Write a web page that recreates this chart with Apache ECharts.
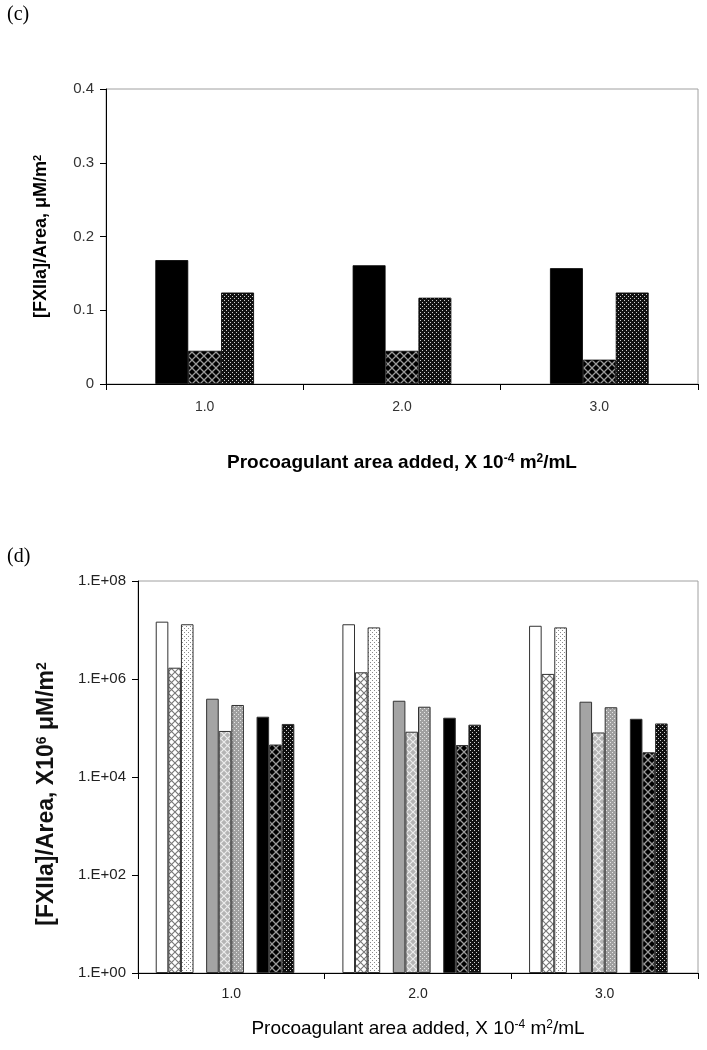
<!DOCTYPE html>
<html>
<head>
<meta charset="utf-8">
<script src="https://cdn.jsdelivr.net/npm/echarts@6/dist/echarts.min.js"></script>
<style>
html,body{margin:0;padding:0;background:#fff;}
#chart{width:707px;height:1050px;}
</style>
</head>
<body>
<div id="chart"></div>
<script>
// ---------- data ----------
const categories = ['1.0', '2.0', '3.0'];
// panel (c): [FXIIa]/Area, uM/m2
const cSolid = [0.168, 0.161, 0.157];
const cCross = [0.045, 0.045, 0.033];
const cDots  = [0.124, 0.117, 0.124];
const cTicks = [0, 0.1, 0.2, 0.3, 0.4];
// panel (d): [FXIIa]/Area, X10^6 uM/m2 (log scale)
const dWhite      = [1.48e7, 1.31e7, 1.22e7];
const dWhiteCross = [1.70e6, 1.37e6, 1.27e6];
const dWhiteDots  = [1.31e7, 1.13e7, 1.13e7];
const dGray       = [3.96e5, 3.60e5, 3.44e5];
const dGrayCross  = [8.7e4, 8.4e4, 8.1e4];
const dGrayDots   = [2.95e5, 2.72e5, 2.65e5];
const dBlack      = [1.70e5, 1.62e5, 1.54e5];
const dBlackCross = [4.6e4, 4.5e4, 3.2e4];
const dBlackDots  = [1.21e5, 1.17e5, 1.24e5];
const dTickExponents = [0, 2, 4, 6, 8];

// ---------- patterns ----------
function crossPattern(bg, fg, size, lw) {
  const c = document.createElement('canvas');
  c.width = size; c.height = size;
  const g = c.getContext('2d');
  g.fillStyle = bg; g.fillRect(0, 0, size, size);
  g.strokeStyle = fg; g.lineWidth = lw;
  g.beginPath();
  g.moveTo(0, 0); g.lineTo(size, size);
  g.moveTo(size, 0); g.lineTo(0, size);
  g.stroke();
  return { image: c, repeat: 'repeat' };
}
function dotPattern(bg, fg) {
  const c = document.createElement('canvas');
  c.width = 4; c.height = 4;
  const g = c.getContext('2d');
  g.fillStyle = bg; g.fillRect(0, 0, 4, 4);
  g.fillStyle = fg;
  g.fillRect(0, 0, 1, 1);
  g.fillRect(2, 2, 1, 1);
  return { image: c, repeat: 'repeat' };
}

const pBlackCross = crossPattern('#000000', '#9a9a9a', 8, 1.3);
const pBlackDots  = dotPattern('#111111', '#cfcfcf');
const pWhiteCross = crossPattern('#ffffff', '#777777', 7, 1.1);
const pWhiteDots  = dotPattern('#ffffff', '#8a8a8a');
const pGrayCross  = crossPattern('#b4b4b4', '#ececec', 7, 1.2);
const pGrayDots   = dotPattern('#a0a0a0', '#e6e6e6');

const chart = echarts.init(document.getElementById('chart'), null, { renderer: 'canvas' });

const FONT = '"Liberation Sans", Arial, sans-serif';

function cBar(name, data, color) {
  return {
    type: 'bar', name: name, xAxisIndex: 0, yAxisIndex: 0, data: data,
    barGap: '0%', barCategoryGap: '50%',
    itemStyle: { color: color, borderColor: '#000', borderWidth: 0.8 },
    animation: false
  };
}
function dBar(name, data, color) {
  return {
    type: 'bar', name: name, xAxisIndex: 1, yAxisIndex: 1, data: data,
    barGap: '0%', barCategoryGap: '19%',
    itemStyle: { color: color, borderColor: '#333', borderWidth: 1 },
    animation: false
  };
}
const empty = [null, null, null];

const option = {
  animation: false,
  backgroundColor: '#fff',
  textStyle: { fontFamily: FONT },
  graphic: [
    { type: 'text', left: 7, top: 5, style: { text: '(c)', font: '20px "Liberation Serif"', fill: '#000' } },
    { type: 'text', left: 7, top: 547, style: { text: '(d)', font: '20px "Liberation Serif"', fill: '#000' } }
  ],
  grid: [
    { left: 106, top: 89, width: 592, height: 295, show: true, borderColor: '#a0a0a0', borderWidth: 1, backgroundColor: '#fff' },
    { left: 138, top: 581, width: 560, height: 392, show: true, borderColor: '#a0a0a0', borderWidth: 1, backgroundColor: '#fff' }
  ],
  xAxis: [
    {
      gridIndex: 0, type: 'category', data: categories,
      axisLine: { lineStyle: { color: '#000', width: 1 } },
      axisTick: { show: true, length: 6, lineStyle: { color: '#000' } },
      axisLabel: { color: '#333', fontSize: 14, margin: 16, fontFamily: FONT },
      name: 'Procoagulant area added, X 10{sup|-4} m{sup|2}/mL',
      nameLocation: 'middle', nameGap: 69,
      nameTextStyle: { fontSize: 19, fontWeight: 'bold', color: '#000', fontFamily: FONT,
        rich: { sup: { fontSize: 12, verticalAlign: 'top', lineHeight: 12, fontWeight: 'bold', fontFamily: FONT, color: '#000' } } }
    },
    {
      gridIndex: 1, type: 'category', data: categories,
      axisLine: { lineStyle: { color: '#000', width: 1 } },
      axisTick: { show: true, length: 6, lineStyle: { color: '#000' } },
      axisLabel: { color: '#222', fontSize: 14, margin: 14, fontFamily: FONT },
      name: 'Procoagulant area added, X 10{sup|-4} m{sup|2}/mL',
      nameLocation: 'middle', nameGap: 46,
      nameTextStyle: { fontSize: 19, fontWeight: 'normal', color: '#000', fontFamily: FONT,
        rich: { sup: { fontSize: 12, verticalAlign: 'top', lineHeight: 12, fontFamily: FONT, color: '#000' } } }
    }
  ],
  yAxis: [
    {
      gridIndex: 0, type: 'value',
      min: cTicks[0], max: cTicks[cTicks.length - 1], interval: cTicks[1] - cTicks[0],
      splitLine: { show: false },
      axisLine: { show: true, lineStyle: { color: '#000', width: 1 } },
      axisTick: { show: true, length: 6, lineStyle: { color: '#000' } },
      axisLabel: { color: '#333', fontSize: 15, margin: 12,
        formatter: function (v) { return v === 0 ? '0' : v.toFixed(1); } },
      name: '[FXIIa]/Area, \u03bcM/m{sup|2}',
      nameLocation: 'middle', nameGap: 56, nameRotate: 90,
      nameTextStyle: { fontSize: 18, fontWeight: 'bold', color: '#000', fontFamily: FONT,
        rich: { sup: { fontSize: 11, verticalAlign: 'top', lineHeight: 10, fontWeight: 'bold', color: '#000' } } }
    },
    {
      gridIndex: 1, type: 'log', logBase: 10,
      min: Math.pow(10, dTickExponents[0]), max: Math.pow(10, dTickExponents[dTickExponents.length - 1]),
      interval: dTickExponents[1] - dTickExponents[0],
      splitNumber: dTickExponents.length - 1,
      splitLine: { show: false },
      minorTick: { show: false },
      axisLine: { show: true, lineStyle: { color: '#000', width: 1 } },
      axisTick: { show: true, length: 6, lineStyle: { color: '#000' } },
      axisLabel: { color: '#222', fontSize: 15, margin: 12,
        formatter: function (v) {
          const e = Math.round(Math.log10(v));
          return '1.E+' + (e < 10 ? '0' + e : e);
        } },
      name: '[FXIIa]/Area, X10{sup|6} \u03bcM/m{sup|2}',
      nameLocation: 'middle', nameGap: 80, nameRotate: 90,
      nameTextStyle: { fontSize: 23, fontWeight: 'bold', color: '#111', fontFamily: FONT,
        padding: [0, 34, 0, 0],
        rich: { sup: { fontSize: 14, verticalAlign: 'top', lineHeight: 10, fontWeight: 'bold', color: '#111' } } }
    }
  ],
  series: [
    cBar('c solid', cSolid, '#000000'),
    cBar('c cross', cCross, pBlackCross),
    cBar('c dots', cDots, pBlackDots),

    dBar('white', dWhite, '#ffffff'),
    dBar('white cross', dWhiteCross, pWhiteCross),
    dBar('white dots', dWhiteDots, pWhiteDots),
    dBar('gap1', empty, '#fff'),
    dBar('gray', dGray, '#a4a4a4'),
    dBar('gray cross', dGrayCross, pGrayCross),
    dBar('gray dots', dGrayDots, pGrayDots),
    dBar('gap2', empty, '#fff'),
    dBar('black', dBlack, '#000000'),
    dBar('black cross', dBlackCross, pBlackCross),
    dBar('black dots', dBlackDots, pBlackDots),
    dBar('gap3', empty, '#fff')
  ]
};
chart.setOption(option);
</script>
</body>
</html>
